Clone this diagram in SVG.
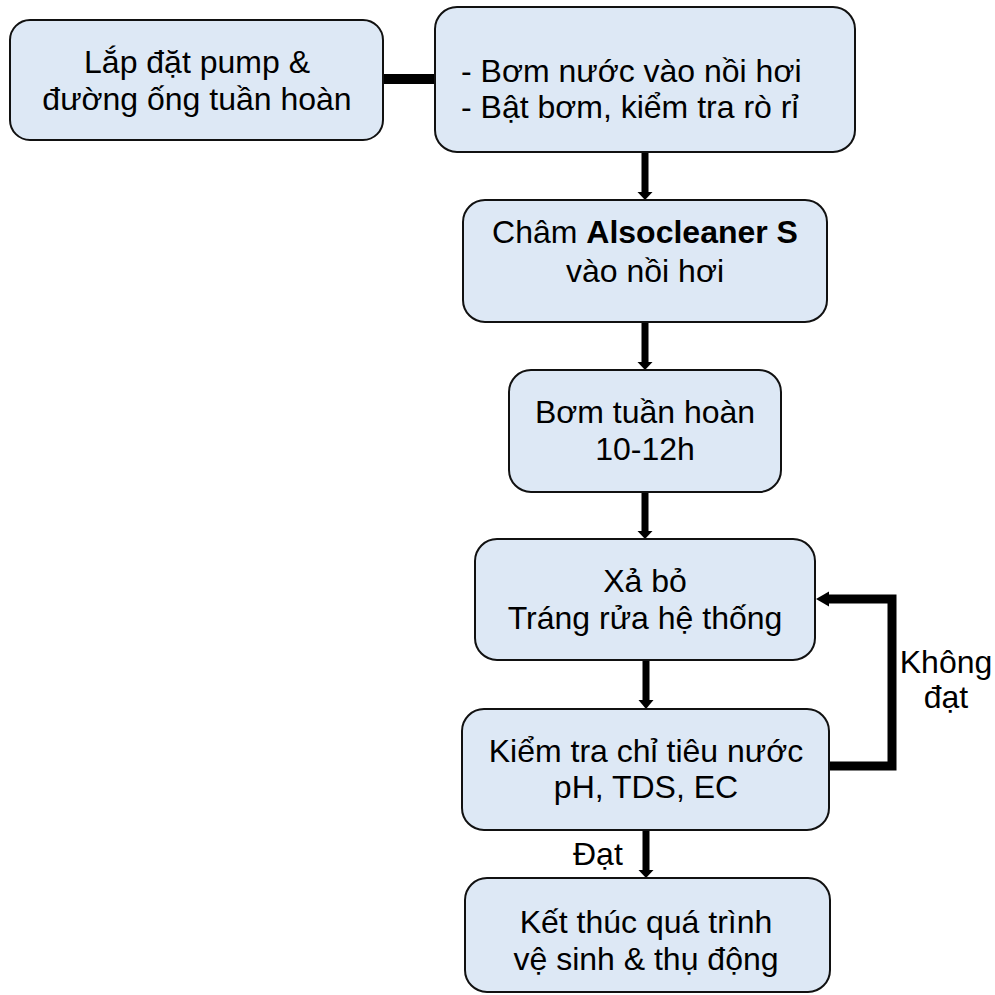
<svg xmlns="http://www.w3.org/2000/svg" width="995" height="995" viewBox="0 0 995 995">
<style>
.box{fill:#dde8f5;stroke:#111;stroke-width:2}
text{font-family:"Liberation Sans",Arial,sans-serif;font-size:32px;fill:#000}
.c{text-anchor:middle}
.ah{fill:#000}
</style>
<rect width="995" height="995" fill="#fff"/>
<g id="connectors">
<rect x="383" y="74" width="52" height="10" fill="#000"/>
<rect x="641.5" y="152" width="7" height="41" fill="#000"/>
<polygon class="ah" points="637.5,192 652.5,192 645,200"/>
<rect x="641.5" y="322" width="7" height="41" fill="#000"/>
<polygon class="ah" points="637.5,362 652.5,362 645,370"/>
<rect x="641.5" y="492" width="7" height="40" fill="#000"/>
<polygon class="ah" points="637.5,531 652.5,531 645,539"/>
<rect x="642.5" y="660" width="7" height="41" fill="#000"/>
<polygon class="ah" points="638.5,700 653.5,700 646,709"/>
<rect x="642.5" y="830" width="7" height="41" fill="#000"/>
<polygon class="ah" points="638.5,870 653.5,870 646,878"/>
<polyline points="829,766 892,766 892,599 827,599" fill="none" stroke="#000" stroke-width="9" stroke-linejoin="miter"/>
<polygon class="ah" points="829,591.5 829,606.5 816,599"/>
<text x="573" y="865">Đạt</text>
<text class="c" x="946" y="673">Không</text>
<text class="c" x="946" y="708">đạt</text>
</g>
<g id="n1">
<rect class="box" x="10" y="20" width="373" height="120" rx="20"/>
<text class="c" x="197" y="73">Lắp đặt pump &amp;</text>
<text class="c" x="197" y="110">đường ống tuần hoàn</text>
</g>
<g id="n2">
<rect class="box" x="435" y="7" width="420" height="145" rx="22"/>
<text x="461" y="82">- Bơm nước vào nồi hơi</text>
<text x="461" y="118">- Bật bơm, kiểm tra rò rỉ</text>
</g>
<g id="n3">
<rect class="box" x="463" y="200" width="364" height="122" rx="22"/>
<text class="c" x="645" y="243">Châm <tspan font-weight="bold">Alsocleaner S</tspan></text>
<text class="c" x="645" y="282">vào nồi hơi</text>
</g>
<g id="n4">
<rect class="box" x="509" y="370" width="272" height="122" rx="22"/>
<text class="c" x="645" y="423">Bơm tuần hoàn</text>
<text class="c" x="645" y="460">10-12h</text>
</g>
<g id="n5">
<rect class="box" x="475" y="539" width="340" height="121" rx="22"/>
<text class="c" x="645" y="592">Xả bỏ</text>
<text class="c" x="645" y="629">Tráng rửa hệ thống</text>
</g>
<g id="n6">
<rect class="box" x="462" y="709" width="367" height="121" rx="22"/>
<text class="c" x="646" y="762">Kiểm tra chỉ tiêu nước</text>
<text class="c" x="646" y="798">pH, TDS, EC</text>
</g>
<g id="n7">
<rect class="box" x="465" y="878" width="365" height="114" rx="22"/>
<text class="c" x="646" y="933">Kết thúc quá trình</text>
<text class="c" x="646" y="970">vệ sinh &amp; thụ động</text>
</g>
</svg>
